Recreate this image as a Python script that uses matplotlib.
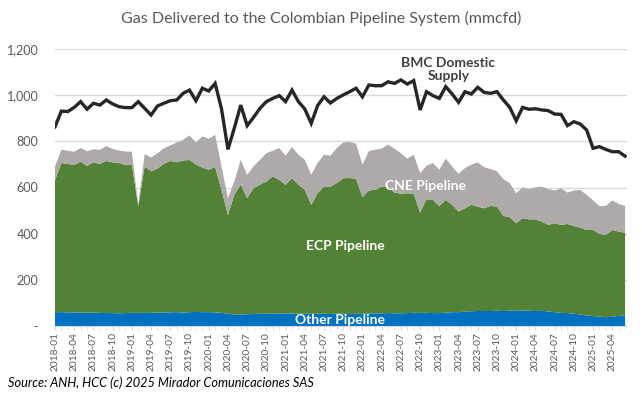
import numpy as np
import matplotlib
matplotlib.use('Agg')
import matplotlib.pyplot as plt
from matplotlib.ticker import FuncFormatter, MultipleLocator

plt.rcParams['font.family'] = ['Lato', 'DejaVu Sans']

# monthly data, 2018-01 .. 2025-06 (mmcfd)
months = ['%d-%02d' % (2018 + k // 12, k % 12 + 1) for k in range(90)]

other = [60, 60, 59, 59, 58, 58, 58, 57, 56, 56, 55, 56, 57,
         57, 57, 57, 58, 58, 59, 60, 58,
         60, 61, 60, 60, 59, 57,
         53, 50, 50, 51, 52, 53, 53, 54, 54,
         54, 54, 54, 54, 53, 53, 53, 52, 53, 53, 52, 53, 53, 54, 55,
         55, 56, 55, 55, 56, 57, 57, 57, 56, 56, 58, 60, 60, 62, 64, 65, 65, 65, 66, 65,
         66, 66, 67, 66, 65, 66, 63, 60, 57, 56, 53, 50, 46, 43, 41, 38, 40, 44, 45]

ecp = [572, 646, 643, 639, 654, 636, 651, 645, 659, 653, 651, 642, 642,
       461, 635, 613, 624, 645, 656, 649, 659, 659, 639, 626, 617, 630,
       533, 428, 518, 563, 503, 545, 559, 573, 594, 579, 558, 587, 558,
       536, 472, 522, 551, 552, 566, 587, 589, 585, 505, 533, 535, 549,
       546, 523, 518, 519, 516, 434, 492, 490, 464, 488, 465, 436, 448,
       461, 452, 445, 455, 451, 412, 405, 379, 400, 396, 397, 386, 375,
       385, 381, 386, 380, 376, 370, 373, 358, 356, 376, 365, 359]

cne = [60, 58, 57, 57, 59, 63, 57, 61, 64, 58, 54, 58, 56,
       10, 53, 60, 66, 67, 67, 86, 89, 107, 95, 135, 134, 139,
       100, 73, 58, 107, 101, 94, 108, 123, 111, 138, 126, 134, 130,
       130, 130, 131, 138, 134, 152, 155, 156, 152, 141, 170, 174, 164,
       184, 190, 176, 150, 169, 171, 145, 160, 157, 179, 166, 163, 174,
       174, 192, 178, 160, 153, 159, 148, 130, 134, 131, 139, 152, 155,
       142, 159, 136, 154, 164, 152, 128, 121, 126, 128, 120, 116]

bmc = [863, 931, 929, 947, 972, 939, 965, 957, 979, 962, 950, 946, 946,
       972, 943, 914, 953, 965, 976, 979, 1008, 1022, 976, 1030, 1018, 1051,
       940, 765, 858, 957, 868, 904, 943, 972, 986, 998, 972, 1022, 972,
       940, 878, 955, 993, 966, 986, 1001, 1015, 1030, 993, 1044, 1041, 1041,
       1058, 1051, 1066, 1048, 1063, 936, 1015, 998, 986, 1037, 1005, 969, 1015,
       1005, 1034, 1012, 1008, 1015, 979, 947, 889, 947, 939, 941, 936, 933,
       918, 917, 868, 885, 875, 849, 770, 777, 765, 755, 755, 736]

x = np.arange(len(months))

fig = plt.figure(figsize=(6.42, 3.97), dpi=100)
ax = fig.add_axes([55 / 642, 1 - 326 / 397, 572 / 642, 277 / 397])

ax.stackplot(x, other, ecp, cne, colors=['#0070C0', '#538135', '#AEAAAA'], linewidth=0)
ax.plot(x, bmc, color='#262626', linewidth=2.4, solid_joinstyle='miter', zorder=5)

ax.set_xlim(0, 89.3)
ax.set_ylim(0, 1200)
ax.yaxis.set_major_locator(MultipleLocator(200))
ax.yaxis.set_major_formatter(FuncFormatter(lambda v, p: '-' if v == 0 else '{:,.0f}'.format(v)))
ax.grid(axis='y', color='#D9D9D9', linewidth=1)
ax.set_axisbelow(True)

ax.set_xticks(x[::3])
ax.set_xticklabels(months[::3], rotation=90, fontsize=7.3, color='#595959')
ax.set_xticks(x, minor=True)
ax.tick_params(axis='x', which='both', length=3, color='#D9D9D9', pad=1.5)
ax.tick_params(axis='y', length=0, labelsize=9, labelcolor='#595959', pad=12)

for s in ['top', 'right', 'left']:
    ax.spines[s].set_visible(False)
ax.spines['bottom'].set_color('#D9D9D9')

fig.text(0.5, 1 - 18 / 397, 'Gas Delivered to the Colombian Pipeline System (mmcfd)',
         ha='center', va='center', fontsize=11.5, color='#595959')

ax.text(61.4, 1112, 'BMC Domestic\nSupply', ha='center', va='center', fontsize=10,
        fontweight='bold', color='#404040', linespacing=1.15, zorder=6)
ax.text(57.8, 606, 'CNE Pipeline', ha='center', va='center', fontsize=10,
        fontweight='bold', color='white')
ax.text(45.3, 346, 'ECP Pipeline', ha='center', va='center', fontsize=10,
        fontweight='bold', color='white')
ax.text(44.5, 26, 'Other Pipeline', ha='center', va='center', fontsize=10,
        fontweight='bold', color='white', zorder=6)

fig.text(8 / 642, 1 - 383 / 397, 'Source: ANH, HCC (c) 2025 Mirador Comunicaciones SAS',
         ha='left', va='center', fontsize=9.2, style='italic', color='black')

fig.savefig('out.png', dpi=100)
